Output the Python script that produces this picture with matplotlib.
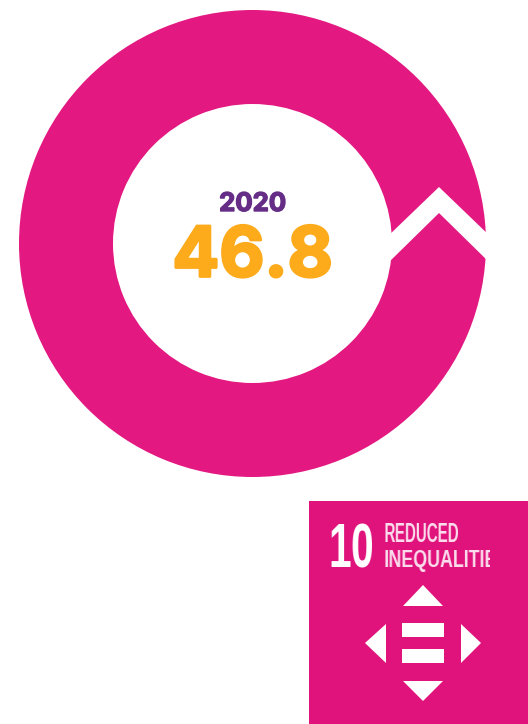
import matplotlib
matplotlib.use('Agg')
import matplotlib.pyplot as plt
import numpy as np
from matplotlib import colors as mcolors
from matplotlib import patheffects as pe
from matplotlib.patches import Polygon, Rectangle

# ring value and labels
ring_values = [100]
year_label = '2020'
score_label = '46.8'
goal_number = '10'
goal_lines = ['REDUCED', 'INEQUALITIES']

PINK = '#e31881'
SQUARE = '#e0137c'
ORANGE = '#fdaa1b'
PURPLE = '#652d86'
BADGE_TEXT = '#fbdcec'


def narrow_to(width, colour):
    # agg filter: squeeze the drawn text sideways to a given pixel width
    rgb = mcolors.to_rgb(colour)

    def _filter(img, dpi):
        h, w = img.shape[:2]
        edges = np.linspace(0, w, width + 1)
        cum = np.hstack([np.zeros((h, 1)), np.cumsum(img[:, :, 3], axis=1)])
        alpha = np.array([np.diff(np.interp(edges, np.arange(w + 1), row)) for row in cum])
        out = np.zeros((h, width, 4))
        out[:, :, :3] = rgb
        out[:, :, 3] = np.clip(alpha * width / w, 0, 1)
        return out, 0, 0
    return _filter


fig = plt.figure(figsize=(5.28, 7.24), dpi=100)
ax = fig.add_axes([0, 0, 1, 1])

# donut
ax.pie(ring_values, colors=[PINK], center=(252.5, 243.5), radius=233.5,
       startangle=90, wedgeprops=dict(width=94, linewidth=0))
ax.set_xlim(0, 528)
ax.set_ylim(724, 0)
ax.set_aspect('equal')
ax.axis('off')

# white chevron cut through the ring
ax.add_patch(Polygon([(386, 238), (439, 187), (492, 238), (492, 265), (439, 213), (386, 265)],
                     closed=True, fc='white', ec='none', zorder=3))

ax.text(252.5, 211, year_label, color=PURPLE, fontsize=18.5, family='Inter', weight='bold',
        ha='center', va='baseline', zorder=4,
        path_effects=[pe.withStroke(linewidth=1, foreground=PURPLE)])
ax.text(252.5, 276.5, score_label, color=ORANGE, fontsize=50, family='Inter', weight='bold',
        ha='center', va='baseline', zorder=4,
        path_effects=[pe.withStroke(linewidth=2, foreground=ORANGE)])

# goal badge
ax.add_patch(Rectangle((309, 501), 219, 223, fc=SQUARE, ec='none', zorder=2))
t = ax.text(327, 567, goal_number, color='white', fontsize=45, family='Liberation Sans',
            weight='bold', ha='left', va='baseline', zorder=4)
t.set_agg_filter(narrow_to(41, 'white'))
t = ax.text(383, 541.5, goal_lines[0], color=BADGE_TEXT, fontsize=19.5, family='Liberation Sans',
            weight='bold', ha='left', va='baseline', zorder=4)
t.set_agg_filter(narrow_to(73, BADGE_TEXT))
t = ax.text(383, 567.5, goal_lines[1], color=BADGE_TEXT, fontsize=17.5, family='Liberation Sans',
            weight='bold', ha='left', va='baseline', zorder=4)
t.set_agg_filter(narrow_to(105, BADGE_TEXT))

# arrows and equals sign
arrows = [
    [(423, 585), (403, 606), (443, 606)],
    [(423, 701), (403, 681), (443, 681)],
    [(365, 643), (386, 624), (386, 663)],
    [(481, 643), (461, 624), (461, 663)],
]
for tri in arrows:
    ax.add_patch(Polygon(tri, closed=True, fc='white', ec='none', zorder=4))
for y0 in (623, 649):
    ax.add_patch(Rectangle((402, y0), 42, 14, fc='white', ec='none', zorder=4))

fig.savefig('out.png', dpi=100, facecolor='white')
